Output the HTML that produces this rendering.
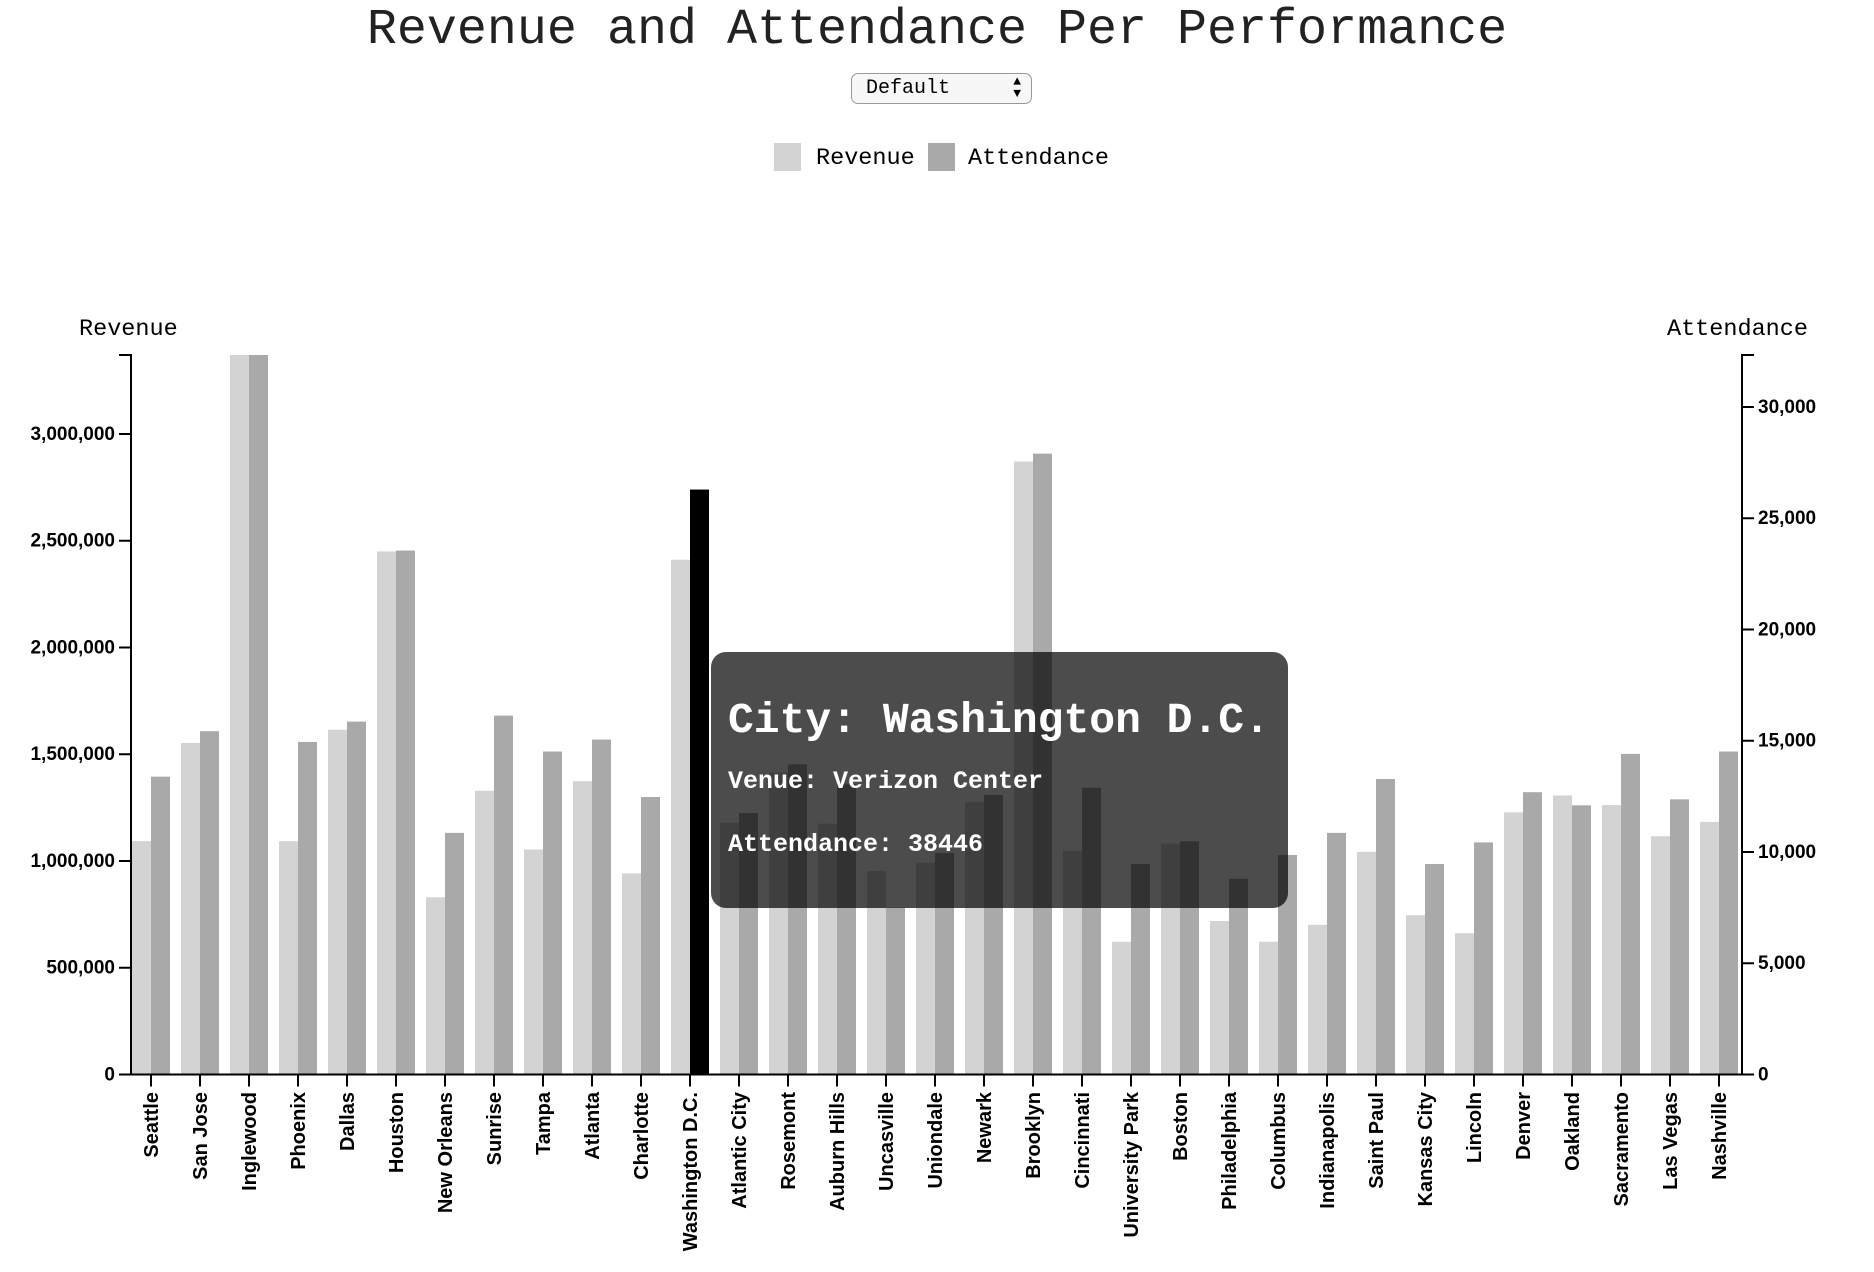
<!DOCTYPE html>
<html><head><meta charset="utf-8"><style>
body{margin:0;background:#fff;width:1874px;height:1272px;overflow:hidden;position:relative;font-family:"Liberation Mono",monospace}
#title{position:absolute;left:0;width:1874px;top:2px;text-align:center;font-size:50px;color:#222;}
#sel{position:absolute;left:851px;top:73px;width:181px;height:31px;border:1px solid #999;border-radius:7px;background:#f7f7f7;box-sizing:border-box;font-size:20px;padding:3px 0 0 14px;color:#000}
#sel span.arr{position:absolute;right:10px;top:2px;font-size:13px;line-height:12px}
#tip{position:absolute;left:711px;top:652px;width:577px;height:256px;background:rgba(0,0,0,0.7);border-radius:15px;color:#fff;font-weight:bold}
</style></head><body>
<div id="title">Revenue and Attendance Per Performance</div>
<div id="sel">Default<span class="arr">▲<br>▼</span></div>
<svg id="chart" width="1874" height="1272" style="position:absolute;left:0;top:0"></svg>
<div id="tip">
<div style="position:absolute;left:17px;top:44px;font-size:43px">City: Washington D.C.</div>
<div style="position:absolute;left:17px;top:115px;font-size:25px">Venue: Verizon Center</div>
<div style="position:absolute;left:17px;top:178px;font-size:25px">Attendance: 38446</div>
</div>
<script>
const cities=["Seattle","San Jose","Inglewood","Phoenix","Dallas","Houston","New Orleans","Sunrise","Tampa","Atlanta","Charlotte","Washington D.C.","Atlantic City","Rosemont","Auburn Hills","Uncasville","Uniondale","Newark","Brooklyn","Cincinnati","University Park","Boston","Philadelphia","Columbus","Indianapolis","Saint Paul","Kansas City","Lincoln","Denver","Oakland","Sacramento","Las Vegas","Nashville"];
const revenue=[1093000,1553000,3370000,1093000,1615000,2450000,830000,1329000,1054000,1374000,942000,2411000,1179000,1414000,1175000,953000,992000,1276000,2871000,1047000,622000,1081000,719000,622000,701000,1043000,746000,662000,1228000,1307000,1262000,1116000,1183000];
const attendance=[13387,15430,32337,14946,15860,23548,10860,16129,14516,15054,12473,26290,11753,13942,13043,7497,9955,12562,27903,12890,9461,10481,8800,9865,10860,13280,9462,10430,12688,12097,14409,12366,14516];
const revTicks=[0,500000,1000000,1500000,2000000,2500000,3000000];
const attTicks=[0,5000,10000,15000,20000,25000,30000];
const highlight="Washington D.C.";
const NS="http://www.w3.org/2000/svg",svg=document.getElementById('chart');
const X0=131,X1=1742,Y0=1074.5,YT=355,step=49,c0=151,bw=19;
const revMax=Math.max(...revenue),attMax=Math.max(...attendance);
const yR=v=>Y0-(Y0-YT)*v/revMax, yA=v=>Y0-(Y0-YT)*v/attMax, xc=i=>c0+i*step;
function mk(t,a,txt){const e=document.createElementNS(NS,t);for(const k in a)e.setAttribute(k,a[k]);if(txt!=null)e.textContent=txt;svg.appendChild(e);return e;}
cities.forEach((c,i)=>{
 let r=mk('rect',{x:xc(i)-bw,y:yR(revenue[i]),width:bw,height:Y0-yR(revenue[i]),fill:'#d3d3d3'});
 
 
 let a=mk('rect',{x:xc(i),y:yA(attendance[i]),width:bw,height:Y0-yA(attendance[i]),fill:c===highlight?'#000':'#a9a9a9'});
 
 
 mk('line',{x1:xc(i),x2:xc(i),y1:Y0,y2:Y0+12,stroke:'#000','stroke-width':2});
 let t=mk('text',{transform:`translate(${xc(i)+7},1092) rotate(-90)`,'text-anchor':'end','font-family':'Liberation Sans, sans-serif','font-weight':'bold','font-size':'20'},c);
 
 
});
mk('path',{d:`M${X0-12},${YT}H${X0}V${Y0}H${X0-12}`,fill:'none',stroke:'#000','stroke-width':2});
mk('line',{x1:X0,x2:X1,y1:Y0,y2:Y0,stroke:'#000','stroke-width':2});
mk('path',{d:`M${X1+12},${YT}H${X1}V${Y0}H${X1+12}`,fill:'none',stroke:'#000','stroke-width':2});
revTicks.forEach(v=>{mk('line',{x1:X0-12,x2:X0,y1:yR(v),y2:yR(v),stroke:'#000','stroke-width':2});
 let t=mk('text',{x:X0-16,y:yR(v)+6,'text-anchor':'end','font-family':'Liberation Sans, sans-serif','font-weight':'bold','font-size':'19'},v.toLocaleString('en-US'));
 
 });
attTicks.forEach(v=>{mk('line',{x1:X1,x2:X1+12,y1:yA(v),y2:yA(v),stroke:'#000','stroke-width':2});
 let t=mk('text',{x:X1+16,y:yA(v)+6,'font-family':'Liberation Sans, sans-serif','font-weight':'bold','font-size':'19'},v.toLocaleString('en-US'));
 
 });
let l=mk('text',{x:79,y:335,'font-size':'23.5','font-family':'Liberation Mono, monospace'},'Revenue');


let r2=mk('text',{x:1808,y:335,'text-anchor':'end','font-size':'23.5','font-family':'Liberation Mono, monospace'},'Attendance');


let s1=mk('rect',{x:774,y:143,width:27,height:28,fill:'#d3d3d3'});


let t1=mk('text',{x:816,y:164,'font-size':'23.5','font-family':'Liberation Mono, monospace'},'Revenue');


let s2=mk('rect',{x:928,y:143,width:27,height:28,fill:'#a9a9a9'});


let t2=mk('text',{x:968,y:164,'font-size':'23.5','font-family':'Liberation Mono, monospace'},'Attendance');


</script>
</body></html>
